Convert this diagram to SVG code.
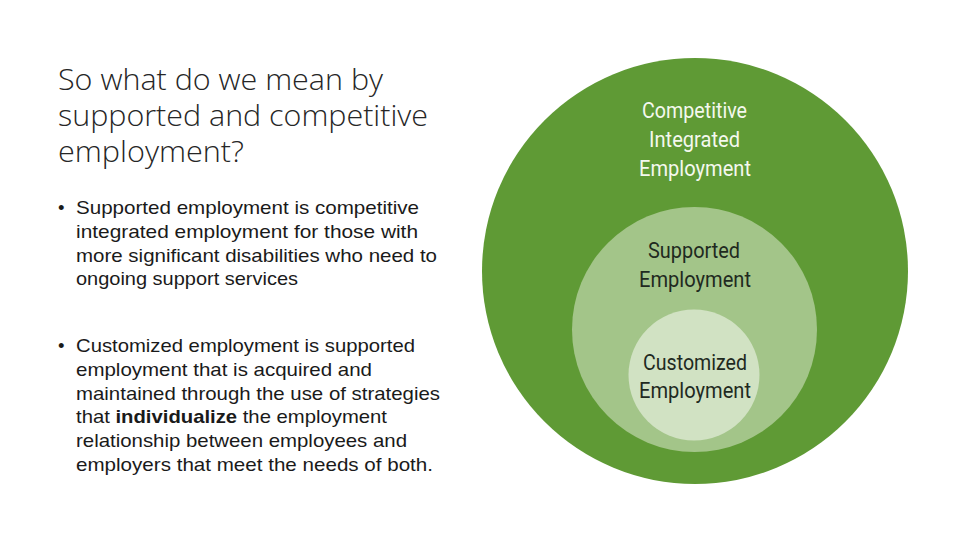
<svg xmlns="http://www.w3.org/2000/svg" width="960" height="540" viewBox="0 0 960 540">
<style>
.title{font-family:"Open Sans","Liberation Sans",sans-serif;font-weight:300;font-size:29px;fill:#262626}
.body{font-family:"Liberation Sans","Open Sans",sans-serif;font-size:18.5px;fill:#1a1a1a}
.lbl{font-family:"Roboto","DejaVu Sans Condensed",sans-serif;font-weight:400;font-size:22px;text-anchor:start}
.w{fill:#f4f8ee}
.d{fill:#1f2a1f}
</style>
<rect width="960" height="540" fill="#ffffff"/>
<g id="title">
<text class="title" x="58" y="90" textLength="325" lengthAdjust="spacingAndGlyphs">So what do we mean by</text>
<text class="title" x="58" y="126" textLength="370" lengthAdjust="spacingAndGlyphs">supported and competitive</text>
<text class="title" x="58" y="162" textLength="186" lengthAdjust="spacingAndGlyphs">employment?</text>
</g>
<g id="bullet1">
<text class="body" x="58" y="214">•</text>
<text class="body" x="76" y="214" textLength="343" lengthAdjust="spacingAndGlyphs">Supported employment is competitive</text>
<text class="body" x="76" y="238" textLength="342" lengthAdjust="spacingAndGlyphs">integrated employment for those with</text>
<text class="body" x="76" y="262" textLength="361" lengthAdjust="spacingAndGlyphs">more significant disabilities who need to</text>
<text class="body" x="76" y="285" textLength="222" lengthAdjust="spacingAndGlyphs">ongoing support services</text>
</g>
<g id="bullet2">
<text class="body" x="58" y="352">•</text>
<text class="body" x="76" y="352" textLength="339" lengthAdjust="spacingAndGlyphs">Customized employment is supported</text>
<text class="body" x="76" y="376" textLength="296" lengthAdjust="spacingAndGlyphs">employment that is acquired and</text>
<text class="body" x="76" y="400" textLength="364" lengthAdjust="spacingAndGlyphs">maintained through the use of strategies</text>
<text class="body" x="76" y="423" textLength="311" lengthAdjust="spacingAndGlyphs">that <tspan font-weight="bold">individualize</tspan> the employment</text>
<text class="body" x="76" y="447" textLength="331" lengthAdjust="spacingAndGlyphs">relationship between employees and</text>
<text class="body" x="76" y="471" textLength="357" lengthAdjust="spacingAndGlyphs">employers that meet the needs of both.</text>
</g>
<g id="competitive-integrated-employment">
<circle cx="695" cy="271" r="213" fill="#5f9a35"/>
<text class="lbl w" x="642" y="118" textLength="105" lengthAdjust="spacingAndGlyphs">Competitive</text>
<text class="lbl w" x="649" y="147" textLength="91" lengthAdjust="spacingAndGlyphs">Integrated</text>
<text class="lbl w" x="639" y="176" textLength="112" lengthAdjust="spacingAndGlyphs">Employment</text>
</g>
<g id="supported-employment">
<circle cx="694.5" cy="329.5" r="122.5" fill="#a3c589"/>
<text class="lbl d" x="648" y="258" textLength="92" lengthAdjust="spacingAndGlyphs">Supported</text>
<text class="lbl d" x="639" y="287" textLength="112" lengthAdjust="spacingAndGlyphs">Employment</text>
</g>
<g id="customized-employment">
<circle cx="694" cy="375" r="65.5" fill="#d1e2c3"/>
<text class="lbl d" x="643" y="370" textLength="104" lengthAdjust="spacingAndGlyphs">Customized</text>
<text class="lbl d" x="639" y="398" textLength="112" lengthAdjust="spacingAndGlyphs">Employment</text>
</g>
</svg>
